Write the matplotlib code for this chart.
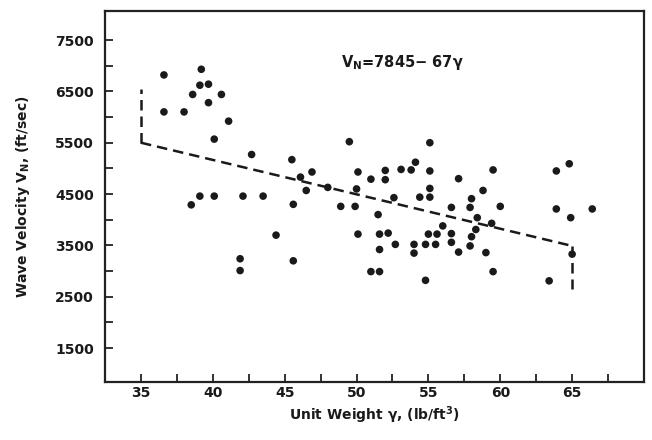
import matplotlib
matplotlib.use("Agg")
import matplotlib.pyplot as plt
import numpy as np

plt.rcParams['font.family'] = ['DejaVu Sans']
plt.rcParams['font.weight'] = 'bold'
plt.rcParams['mathtext.default'] = 'bf'

# Scatter data: unit weight (lb/ft^3) vs wave velocity (ft/sec)
unit_weight = [36.6, 39.2, 39.1, 39.7, 38.6, 40.6, 39.7, 36.6, 38.0, 41.1,
               40.1, 42.7, 45.5, 46.1, 38.5, 39.1, 40.1, 42.1, 43.5, 45.6,
               44.4, 41.9, 41.9, 45.6, 49.5, 55.1, 46.9, 46.5, 50.1, 51.0,
               52.0, 52.0, 53.1, 53.8, 54.1, 55.1, 57.1, 48.0, 50.0, 48.9,
               49.9, 52.6, 51.5, 54.4, 55.1, 55.1, 50.1, 51.6, 52.2, 51.6,
               52.7, 54.0, 54.0, 54.8, 55.0, 55.5, 55.6, 56.0, 56.6, 56.6,
               57.1, 56.6, 57.9, 58.0, 57.9, 58.0, 58.3, 58.4, 51.0, 51.6,
               54.8, 59.5, 63.9, 64.8, 58.8, 60.0, 63.9, 64.9, 66.4, 59.4,
               59.0, 59.5, 63.4, 65.0]
velocity = [6820, 6930, 6620, 6640, 6440, 6440, 6280, 6100, 6100, 5920,
            5570, 5270, 5170, 4830, 4290, 4460, 4460, 4460, 4460, 4300,
            3700, 3240, 3010, 3200, 5520, 5500, 4930, 4570, 4930, 4790,
            4960, 4780, 4980, 4970, 5120, 4950, 4800, 4630, 4600, 4260,
            4260, 4430, 4100, 4440, 4440, 4610, 3720, 3720, 3740, 3420,
            3520, 3520, 3350, 3520, 3720, 3520, 3720, 3880, 3730, 3560,
            3370, 4240, 4240, 4410, 3490, 3670, 3810, 4040, 2990, 2990,
            2820, 4970, 4950, 5090, 4570, 4260, 4210, 4040, 4210, 3930,
            3360, 2990, 2810, 3330]

# Regression V_N = 7845 - 67*gamma over 35..65
fit_x = [35, 65]
intercept = 7845
slope = -67
# Range bars at the ends of the fit line
left_bar = [5500, 6540]
right_bar = [3490, 2660]

x_ticks_major = [35, 40, 45, 50, 55, 60, 65]
x_ticks_minor = [37.5, 42.5, 47.5, 52.5, 57.5, 62.5, 67.5]
y_ticks_major = [1500, 2500, 3500, 4500, 5500, 6500, 7500]
y_ticks_minor = [2000, 3000, 4000, 5000, 6000, 7000]

fig = plt.figure(figsize=(6.52, 4.40), dpi=100)
ax = fig.add_axes([105/652, 1 - 382/440, (644-105)/652, (382-11)/440])

ax.scatter(unit_weight, velocity, s=30, color='#1a1a1a', edgecolors='none', zorder=3)

fy = [intercept + slope * x for x in fit_x]
dash = (4.2, 2.4)
ax.plot(fit_x, fy, color='#1a1a1a', lw=1.8, dashes=dash, zorder=2)
ax.plot([fit_x[0], fit_x[0]], left_bar, color='#1a1a1a', lw=1.8, dashes=dash, zorder=2)
ax.plot([fit_x[1], fit_x[1]], right_bar, color='#1a1a1a', lw=1.8, dashes=dash, zorder=2)

ax.set_xlim(32.5, 70)
ax.set_ylim(840, 8065)
ax.set_xticks(x_ticks_major)
ax.set_xticks(x_ticks_minor, minor=True)
ax.set_yticks(y_ticks_major)
ax.set_yticks(y_ticks_minor, minor=True)
ax.tick_params(which='both', direction='in', length=6, width=1.3, color='#222222')
ax.tick_params(axis='both', labelsize=10)
ax.tick_params(axis='x', pad=3)
ax.tick_params(axis='y', pad=8)
for lab in ax.get_xticklabels() + ax.get_yticklabels():
    lab.set_fontweight('bold')
    lab.set_color('#1a1a1a')

for s in ax.spines.values():
    s.set_linewidth(1.6)
    s.set_color('#222222')

ax.set_xlabel(r"Unit Weight γ, (lb/ft$^3$)", fontsize=10, fontweight='bold',
              labelpad=3, color='#1a1a1a')
ax.set_ylabel(r"Wave Velocity V$_N$, (ft/sec)", fontsize=10, fontweight='bold',
              labelpad=17, color='#1a1a1a')

ax.text(0.438, 0.862, r"V$_N$=7845− 67γ", transform=ax.transAxes, fontsize=10.5,
        fontweight='bold', color='#1a1a1a', ha='left', va='center')

fig.savefig("out.png", dpi=100)
